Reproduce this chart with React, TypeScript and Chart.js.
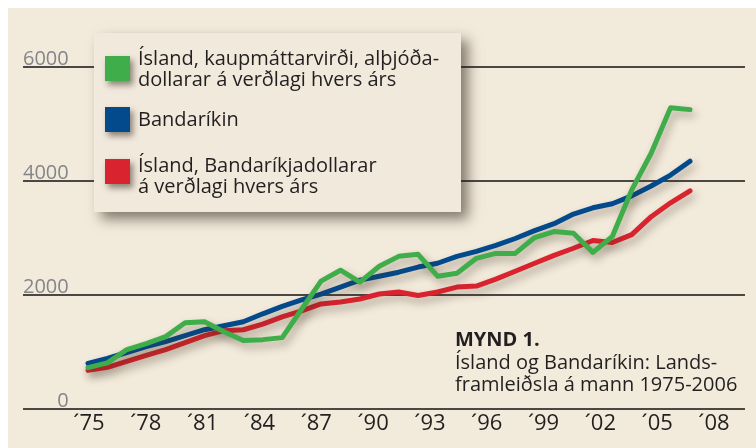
import React, { useEffect, useRef } from "react";
import { Chart, registerables } from "chart.js";

Chart.register(...registerables);

// ---- data ----
const years = [
  1975, 1976, 1977, 1978, 1979, 1980, 1981, 1982, 1983, 1984, 1985, 1986, 1987, 1988, 1989, 1990,
  1991, 1992, 1993, 1994, 1995, 1996, 1997, 1998, 1999, 2000, 2001, 2002, 2003, 2004, 2005, 2006,
];
const islandPPP = [
  725, 810, 1043, 1148, 1270, 1513, 1530, 1356, 1200, 1217, 1252, 1750, 2243, 2435, 2226, 2504,
  2678, 2713, 2330, 2383, 2643, 2730, 2730, 3008, 3113, 3085, 2748, 3026, 3843, 4487, 5287, 5252,
];
const usa = [
  800, 887, 991, 1096, 1183, 1287, 1391, 1461, 1530, 1670, 1800, 1913, 2017, 2139, 2261, 2330,
  2400, 2490, 2557, 2678, 2765, 2870, 2991, 3130, 3252, 3420, 3530, 3600, 3739, 3913, 4104, 4348,
];
const islandUSD = [
  678, 730, 835, 939, 1043, 1165, 1287, 1374, 1390, 1490, 1617, 1722, 1843, 1878, 1930, 2017,
  2052, 1990, 2052, 2139, 2157, 2278, 2417, 2557, 2696, 2820, 2956, 2921, 3060, 3374, 3617, 3826,
];
const tickYears = [1975, 1978, 1981, 1984, 1987, 1990, 1993, 1996, 1999, 2002, 2005, 2008];
const xTickLabels = ["´75", "´78", "´81", "´84", "´87", "´90", "´93", "´96", "´99", "´02", "´05", "´08"];
const yTickLabels = ["0", "2000", "4000", "6000"];

const seriesNames = [
  ["Ísland, kaupmáttarvirði, alþjóða-", "dollarar á verðlagi hvers árs"],
  ["Bandaríkin"],
  ["Ísland, Bandaríkjadollarar", "á verðlagi hvers árs"],
];
const seriesColors = ["#3fae4a", "#034a8c", "#d9232e"];
const noteTitle = "MYND 1.";
const noteLines = ["Ísland og Bandaríkin: Lands-", "framleiðsla á mann 1975-2006"];

const FONT = '"Open Sans", "Noto Sans", sans-serif';

const bgPlugin = {
  id: "bg",
  beforeDraw(chart: any) {
    const c = chart.ctx;
    c.save();
    c.fillStyle = "#f2eadb";
    c.fillRect(0, 0, chart.width, chart.height);
    c.restore();
  },
};

const shadowPlugin = {
  id: "lineShadow",
  beforeDatasetDraw(chart: any) {
    const c = chart.ctx;
    c.save();
    c.shadowColor = "rgba(60,45,30,0.38)";
    c.shadowBlur = 8;
    c.shadowOffsetX = 3;
    c.shadowOffsetY = 5;
  },
  afterDatasetDraw(chart: any) {
    chart.ctx.restore();
  },
};

const legendPlugin = {
  id: "boxLegend",
  afterDraw(chart: any) {
    const c = chart.ctx;
    c.save();
    // box with drop shadow
    c.shadowColor = "rgba(40,30,20,0.55)";
    c.shadowBlur = 12;
    c.shadowOffsetX = 7;
    c.shadowOffsetY = 7;
    c.fillStyle = "#f1e9db";
    c.fillRect(86, 25, 367, 179);
    const swatchTops = [48, 99, 151];
    const baselines = [[57, 78], [118], [164, 185]];
    [0, 1, 2].forEach((k) => {
      const ds = chart.data.datasets[k];
      c.shadowColor = "rgba(40,30,20,0.5)";
      c.shadowBlur = 6;
      c.shadowOffsetX = 3;
      c.shadowOffsetY = 4;
      c.fillStyle = ds.borderColor;
      c.fillRect(97, swatchTops[k], 25, 25);
      c.shadowColor = "transparent";
      c.shadowBlur = 0;
      c.shadowOffsetX = 0;
      c.shadowOffsetY = 0;
      c.fillStyle = "#231f20";
      c.font = `20px ${FONT}`;
      c.textBaseline = "alphabetic";
      c.textAlign = "left";
      seriesNames[k].forEach((line, j) => c.fillText(line, 130, baselines[k][j]));
    });
    // annotation
    c.fillStyle = "#231f20";
    c.font = `bold 20px ${FONT}`;
    c.fillText(noteTitle, 447, 338);
    c.font = `20px ${FONT}`;
    noteLines.forEach((line, j) => c.fillText(line, 447, 361 + j * 22));
    c.restore();
  },
};

export default function App() {
  const ref = useRef<HTMLCanvasElement>(null);
  useEffect(() => {
    if (!ref.current) return;
    const series = [islandPPP, usa, islandUSD];
    const chart = new Chart(ref.current, {
      type: "line",
      data: {
        datasets: series.map((vals, k) => ({
          label: seriesNames[k].join(" "),
          data: years.map((yr, i) => ({ x: yr, y: vals[i] })),
          borderColor: seriesColors[k],
          backgroundColor: seriesColors[k],
          borderWidth: 5,
          pointRadius: 0,
          tension: 0,
          borderJoinStyle: "round" as const,
          borderCapStyle: "round" as const,
          xAxisID: "x",
          yAxisID: "y",
        })),
      },
      options: {
        responsive: false,
        animation: false,
        layout: { padding: { top: 59, left: 15, right: 11, bottom: 8.6 } },
        plugins: { legend: { display: false }, tooltip: { enabled: false } },
        scales: {
          x: { type: "linear", min: 1971.653, max: 2008.832, display: false },
          xl: {
            type: "linear",
            position: "bottom",
            min: 1971.515,
            max: 2009.637,
            grid: { display: false, drawTicks: false },
            border: { display: false },
            afterBuildTicks: (scale: any) => {
              scale.ticks = tickYears.map((v) => ({ value: v }));
            },
            ticks: {
              autoSkip: false,
              maxRotation: 0,
              padding: 2,
              color: "#231f20",
              font: { family: FONT, size: 22 },
              callback: (_v: any, i: number) => xTickLabels[i],
            },
          },
          y: {
            min: 0,
            max: 6000,
            grid: { color: "#4d4744", lineWidth: 2, drawTicks: false },
            border: { display: false },
            ticks: {
              stepSize: 2000,
              mirror: true,
              crossAlign: "far",
              padding: 0,
              labelOffset: -8,
              color: "#85858a",
              font: { family: FONT, size: 20 },
              callback: (_v: any, i: number) => yTickLabels[i],
            },
          },
        },
      } as any,
      plugins: [bgPlugin, shadowPlugin, legendPlugin],
    });
    return () => chart.destroy();
  }, []);
  return (
    <div style={{ position: "fixed", left: 8, top: 8, width: 748, height: 440 }}>
      <canvas ref={ref} width={748} height={440} />
    </div>
  );
}
